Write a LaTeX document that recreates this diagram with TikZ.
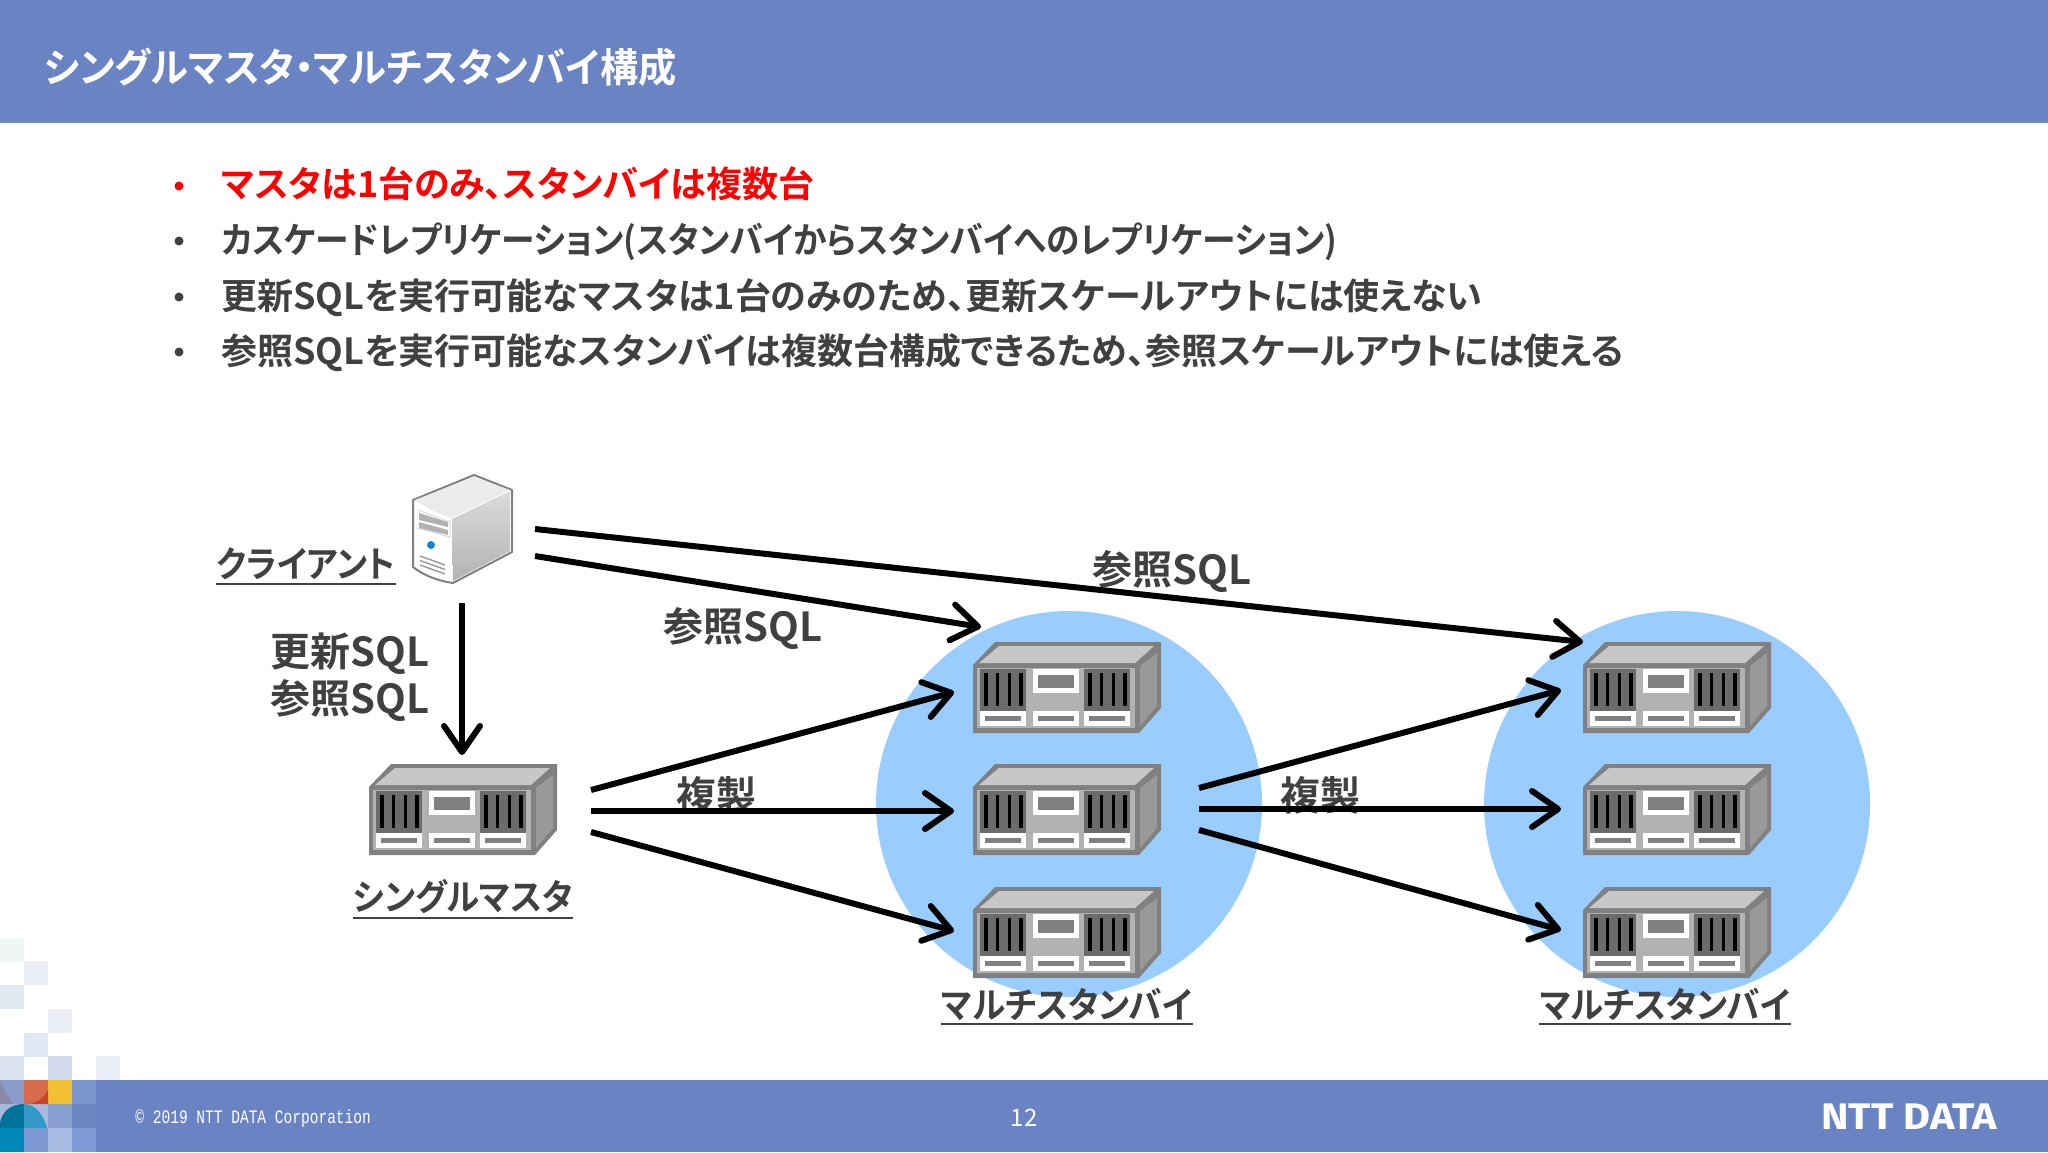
\documentclass[tikz,border=0pt]{standalone}
\usepackage{fontspec}
\setmainfont{Noto Sans CJK JP}[BoldFont={Noto Sans CJK JP Bold}, RawFeature=+palt]
\newfontfamily\footfont{Liberation Mono}[FakeStretch=0.765]
\newfontfamily\logofont{Fira Sans}[FakeStretch=1.12]
\usetikzlibrary{arrows.meta,positioning}
\definecolor{bar_blue}{HTML}{6A83C2}
\definecolor{disc_blue}{HTML}{99CCFF}
\definecolor{ink}{HTML}{404040}
\tikzset{
	rack/.pic={
		\node[inner sep=0pt, minimum width=94pt, minimum height=45.5pt, anchor=north west] (-box) at (0,0) {};
		\fill[rack_edge] (22,0) -- (188,0) -- (188,66) -- (166,91) -- (0,91) -- (0,23) -- cycle;
		\fill[rack_top] (26,4) -- (181,4) -- (162,21) -- (6,21) -- cycle;
		\fill[rack_side] (167,24) -- (184,11) -- (184,64) -- (167,84) -- cycle;
		\fill[rack_front] (4,26) rectangle (162,86);
		\foreach \x in {7,111} {
			\fill[rack_bay] (\x,27) rectangle ++(46,42);
			\foreach \s in {4.3,16,27.7,39.3}
				\fill[black] (\x+\s,31) rectangle ++(3.4,33);
		}
		\foreach \x in {7,60,111} {
			\fill[white] (\x,69) rectangle ++(46,15);
			\fill[rack_edge] (\x+5,74) rectangle ++(36,5);
		}
		\fill[white] (60,27) rectangle (106,51);
		\fill[rack_edge] (65,33) rectangle (101,46);
	},
	rack_edge/.style={color=black!50},
	rack_top/.style={color=black!22},
	rack_front/.style={color=black!30},
	rack_side/.style={color=black!40},
	rack_bay/.style={color=black!58},
}
\begin{document}
\begin{tikzpicture}
	[x=0.5pt, y=-0.5pt, inner sep=0pt,
	heading/.style={font=\bfseries\fontsize{20}{24}\selectfont\addfontfeature{FakeStretch=0.956}, text=white, anchor=west},
	bullet/.style={font=\bfseries\fontsize{18}{22}\selectfont, text=ink, anchor=west},
	dot/.style={circle, fill=ink, minimum size=4.5pt},
	label/.style={font=\bfseries\fontsize{20}{22}\selectfont, text=ink},
	caption/.style={font=\bfseries\fontsize{18}{22}\selectfont\addfontfeature{FakeStretch=0.93}, text=ink},
	link/.style={draw=black, line width=3pt, -{Straight Barb[length=13pt, width=18pt, line width=3pt, round]}}]

	\useasboundingbox (0,0) rectangle (2048,1152);

	\fill[bar_blue] (0,0) rectangle (2048,123);
	\fill[bar_blue] (0,1080) rectangle (2048,1152);

	\foreach \c/\r/\col in {0/938/F0F5F5, 1/961/ECEFF7, 0/985/E0E8F2, 2/1009/ECEEF7, 1/1033/E0E8F3,
			0/1056/DCE3F0, 2/1056/D0DAEA, 4/1056/E9EDF7,
			0/1080/8A9CC9, 1/1080/D96B4D, 2/1080/F0C030, 3/1080/7A94CC,
			0/1104/A9B9DE, 1/1104/A9B9DE, 2/1104/8AA0D0, 3/1104/6D87C4,
			0/1128/0088B8, 1/1128/7B98D2, 2/1128/A8BBE0, 3/1128/7F9AD6} {
		\definecolor{cell_col}{HTML}{\col}
		\fill[cell_col] (\c*24,\r) rectangle ++(24,24);
	}
	\definecolor{dome_dark}{HTML}{00739A}
	\definecolor{dome_light}{HTML}{3399C8}
	\definecolor{arc_red}{HTML}{C8452A}
	\definecolor{wedge_grey}{HTML}{8888A8}
	\fill[dome_dark] (0,1128) -- (0,1122) .. controls (3,1110) and (12,1104) .. (24,1104) -- (24,1128) -- cycle;
	\fill[dome_light] (24,1104) .. controls (36,1104) and (44,1116) .. (47,1128) -- (24,1128) -- cycle;
	\fill[arc_red] (26,1104) .. controls (36,1104) and (44,1098) .. (48,1090) -- (48,1104) -- cycle;
	\fill[wedge_grey] (0,1082) -- (13,1104) -- (0,1104) -- cycle;

	\node[heading] (title) at (44,67) {シングルマスタ・マルチスタンバイ構成};

	\node[dot, fill=red] (dot_a) at (179,186) {};
	\node[dot] (dot_b) at (179,241) {};
	\node[dot] (dot_c) at (179,297) {};
	\node[dot] (dot_d) at (179,352) {};
	\node[bullet, text=red] (item_a) at (221,184) {マスタは1台のみ、スタンバイは複数台};
	\node[bullet, font=\bfseries\fontsize{18}{22}\selectfont\addfontfeature{FakeStretch=0.937}] (item_b) at (221,242) {カスケードレプリケーション(スタンバイからスタンバイへのレプリケーション)};
	\node[bullet] (item_c) at (221,298) {更新SQLを実行可能なマスタは1台のみのため、更新スケールアウトには使えない};
	\node[bullet] (item_d) at (221,353) {参照SQLを実行可能なスタンバイは複数台構成できるため、参照スケールアウトには使える};

	\node[circle, fill=disc_blue, minimum size=193pt] (disc_one) at (1069,804) {};
	\node[circle, fill=disc_blue, minimum size=193pt] (disc_two) at (1677,804) {};

	\begin{scope}[shift={(413,475)}]
		\node[minimum width=49.5pt, minimum height=54pt, anchor=north west] (client) at (0,0) {};
		\fill[white, draw=black!50, line width=1pt, line join=round] (61,0) -- (99,15) -- (99,77) -- (40,108) .. controls (25,106) and (10,100) .. (0,92) -- (0,25) -- cycle;
		\fill[black!8] (2,25) -- (61,2) -- (97,15) -- (38,43) .. controls (25,39) and (12,32) .. (2,25) -- cycle;
		\shade[top color=black!14, bottom color=black!30] (39,44) -- (97,16) -- (97,76) -- (40,106) -- cycle;
		\draw[black!15, line width=0.5pt] (5,35) -- (37,47) -- (37,62) -- (4,53);
		\fill[black!30] (6,38) -- (35,47) -- (35,52) -- (6,45) -- cycle;
		\fill[black!30] (6,47) -- (35,55) -- (35,60) -- (6,53) -- cycle;
		\fill[cyan!70!blue] (18,70) circle[radius=4];
		\foreach \y in {81,85.5,90}
			\draw[black!40, line width=0.7pt] (7,\y) -- (32,\y+9);
	\end{scope}

	\pic (master) at (369,764) {rack};
	\pic (standby_one_top) at (973,642) {rack};
	\pic (standby_one_mid) at (973,764) {rack};
	\pic (standby_one_low) at (973,887) {rack};
	\pic (standby_two_top) at (1583,642) {rack};
	\pic (standby_two_mid) at (1583,764) {rack};
	\pic (standby_two_low) at (1583,887) {rack};

	\node[caption] (client_name) at (306,564) {クライアント};
	\node[caption] (master_name) at (463,897) {シングルマスタ};
	\node[caption] (one_name) at (1067,1004) {マルチスタンバイ};
	\node[caption] (two_name) at (1665,1004) {マルチスタンバイ};
	\foreach \n in {client_name, master_name, one_name, two_name}
		\draw[ink, line width=1pt] ([yshift=-1.5pt]\n.south west) -- ([yshift=-1.5pt]\n.south east);

	\node[label] (update_sql) at (350,654) {更新SQL};
	\node[label] (select_sql) at (350,701) {参照SQL};
	\node[label] (select_one) at (743,629) {参照SQL};
	\node[label] (select_two) at (1172,572) {参照SQL};
	\node[label] (copy_one) at (716,795) {複製};
	\node[label] (copy_two) at (1320,795) {複製};

	\coordinate (client_a) at (535,529);
	\coordinate (client_b) at (535,556);
	\coordinate (client_c) at (462,603);
	\coordinate (to_two) at (1583,642);
	\coordinate (to_one) at (981,627);
	\coordinate (to_master) at (462,755);
	\coordinate (master_a) at (591,790);
	\coordinate (master_b) at (591,811);
	\coordinate (master_c) at (591,832);
	\coordinate (hit_a) at (954,692);
	\coordinate (hit_b) at (954,811);
	\coordinate (hit_c) at (954,931);
	\coordinate (one_a) at (1199,788);
	\coordinate (one_b) at (1199,809);
	\coordinate (one_c) at (1199,830);
	\coordinate (end_a) at (1561,690);
	\coordinate (end_b) at (1561,809);
	\coordinate (end_c) at (1561,930);

	\draw[link] (client_a) to (to_two);
	\draw[link] (client_b) to (to_one);
	\draw[link] (client_c) to (to_master);
	\draw[link] (master_a) to (hit_a);
	\draw[link] (master_b) to (hit_b);
	\draw[link] (master_c) to (hit_c);
	\draw[link] (one_a) to (end_a);
	\draw[link] (one_b) to (end_b);
	\draw[link] (one_c) to (end_c);

	\node[font=\footfont\fontsize{9.5}{10}\selectfont, text=white, anchor=west] (copyright) at (135,1119) {© 2019 NTT DATA Corporation};
	\node[font=\fontsize{12}{14}\selectfont, text=white] (page_no) at (1024,1118) {12};
	\node[font=\logofont\bfseries\fontsize{18.5}{20}\selectfont, text=white, anchor=west] (logo) at (1821,1117) {NTT DATA};
\end{tikzpicture}
\end{document}
